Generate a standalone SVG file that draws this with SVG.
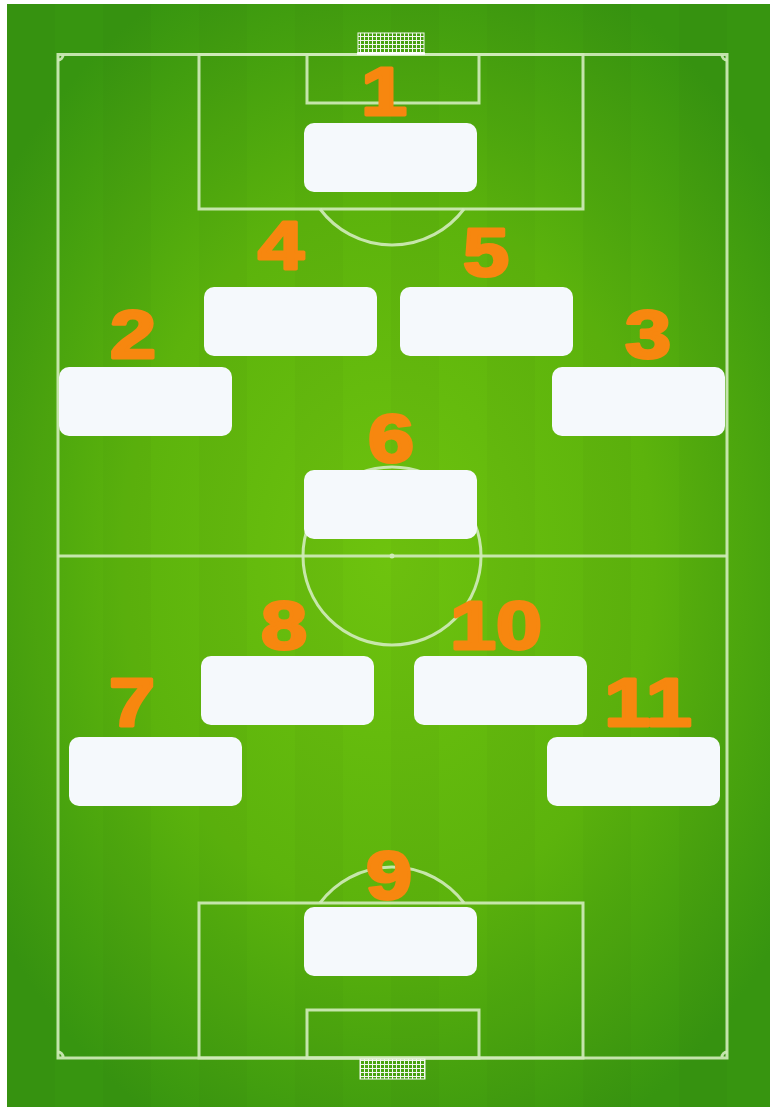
<svg xmlns="http://www.w3.org/2000/svg" width="770" height="1107" viewBox="0 0 770 1107">
  <defs>
    <radialGradient id="grass" cx="390" cy="560" r="640" gradientUnits="userSpaceOnUse" gradientTransform="translate(390 560) scale(0.75 1) translate(-390 -560)">
      <stop offset="0" stop-color="#6ec30e"/>
      <stop offset="0.55" stop-color="#5cb30c"/>
      <stop offset="1" stop-color="#379510"/>
    </radialGradient>
    <pattern id="stripes" x="7" y="0" width="96" height="1107" patternUnits="userSpaceOnUse">
      <rect x="0" y="0" width="48" height="1107" fill="#000" opacity="0.018"/>
    </pattern>
    <pattern id="net" x="0" y="0" width="4" height="4" patternUnits="userSpaceOnUse">
      <path d="M0 0.5H4M0.5 0V4" stroke="#f2f7ee" stroke-width="1" fill="none"/>
    </pattern>
  </defs>
  <style>
    .line { fill: none; stroke: #cfeab8; stroke-opacity: 0.92; stroke-width: 3; }
    .slot { fill: #f5f9fc; }
    .num { font-family: "Liberation Sans", Arial, sans-serif; font-weight: bold; font-size: 69px; fill: #f7870f; stroke: #f7870f; stroke-width: 3; stroke-linejoin: round; text-anchor: middle; }
  </style>

  <rect x="0" y="0" width="770" height="1107" fill="#ffffff"/>
  <rect x="7" y="4" width="763" height="1103" fill="url(#grass)"/>
  <rect x="7" y="4" width="763" height="1103" fill="url(#stripes)"/>

  <g id="pitch">
    <rect class="line" x="58" y="54.5" width="669" height="1003.5"/>
    <line class="line" x1="58" y1="556" x2="727" y2="556"/>
    <circle class="line" cx="392" cy="556" r="89"/>
    <circle cx="392" cy="556" r="2.5" fill="#cfeab8"/>
    <rect class="line" x="199" y="54.5" width="384" height="154.5"/>
    <rect class="line" x="307" y="54.5" width="172" height="48.5"/>
    <path class="line" d="M320 209 A90 90 0 0 0 464 209"/>
    <rect class="line" x="199" y="903" width="384" height="155"/>
    <rect class="line" x="307" y="1010" width="172" height="48"/>
    <path class="line" d="M320 903 A90 90 0 0 1 464 903"/>
    <path class="line" d="M58 60 A5 5 0 0 0 63 55"/>
    <path class="line" d="M722 55 A5 5 0 0 0 727 60"/>
    <path class="line" d="M58 1052 A5 5 0 0 1 63 1057"/>
    <path class="line" d="M722 1057 A5 5 0 0 1 727 1052"/>
    <rect x="358" y="33" width="66" height="20" fill="url(#net)" stroke="#f2f7ee" stroke-width="1"/>
    <line x1="357" y1="53.5" x2="425" y2="53.5" stroke="#ffffff" stroke-width="2.5"/>
    <rect x="360" y="1059" width="65" height="20" fill="url(#net)" stroke="#f2f7ee" stroke-width="1"/>
  </g>

  <g id="connectors"></g>

  <g id="player-1">
    <text class="num" transform="translate(384 114.5) scale(1.2 1)">1</text>
    <rect class="slot" x="304" y="123" width="173" height="69" rx="10"/>
  </g>
  <g id="player-4">
    <text class="num" transform="translate(281 268.5) scale(1.2 1)">4</text>
    <rect class="slot" x="204" y="287" width="173" height="69" rx="10"/>
  </g>
  <g id="player-5">
    <text class="num" transform="translate(486 275.5) scale(1.2 1)">5</text>
    <rect class="slot" x="400" y="287" width="173" height="69" rx="10"/>
  </g>
  <g id="player-2">
    <text class="num" transform="translate(133 357.5) scale(1.2 1)">2</text>
    <rect class="slot" x="59" y="367" width="173" height="69" rx="10"/>
  </g>
  <g id="player-3">
    <text class="num" transform="translate(648 357.5) scale(1.2 1)">3</text>
    <rect class="slot" x="552" y="367" width="173" height="69" rx="10"/>
  </g>
  <g id="player-6">
    <text class="num" transform="translate(391 461.5) scale(1.2 1)">6</text>
    <rect class="slot" x="304" y="470" width="173" height="69" rx="10"/>
  </g>
  <g id="player-8">
    <text class="num" transform="translate(284 648.5) scale(1.2 1)">8</text>
    <rect class="slot" x="201" y="656" width="173" height="69" rx="10"/>
  </g>
  <g id="player-10">
    <text class="num" transform="translate(496 648.5) scale(1.2 1)">10</text>
    <rect class="slot" x="414" y="656" width="173" height="69" rx="10"/>
  </g>
  <g id="player-7">
    <text class="num" transform="translate(132 725.5) scale(1.2 1)">7</text>
    <rect class="slot" x="69" y="737" width="173" height="69" rx="10"/>
  </g>
  <g id="player-11">
    <text class="num" transform="translate(648 725.5) scale(1.2 1)">11</text>
    <rect class="slot" x="547" y="737" width="173" height="69" rx="10"/>
  </g>
  <g id="player-9">
    <text class="num" transform="translate(389 898.5) scale(1.2 1)">9</text>
    <rect class="slot" x="304" y="907" width="173" height="69" rx="10"/>
  </g>
</svg>
